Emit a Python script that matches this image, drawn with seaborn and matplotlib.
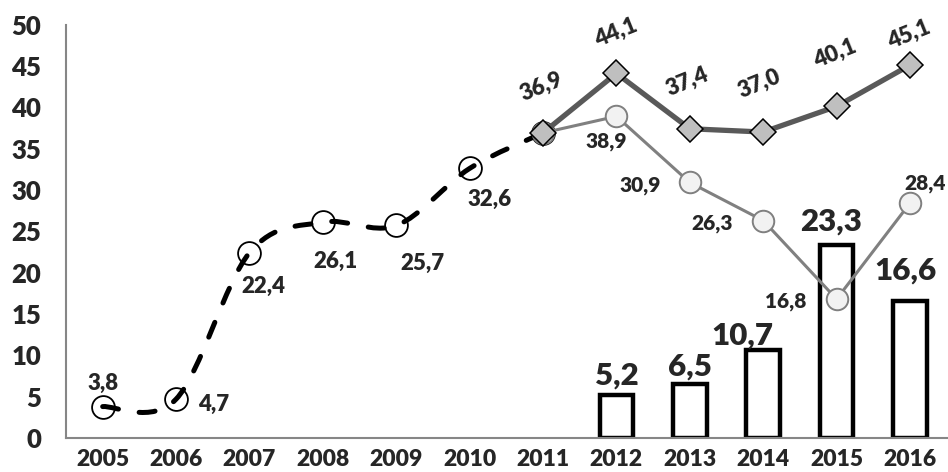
import matplotlib
matplotlib.use("Agg")
import matplotlib.pyplot as plt
from matplotlib import font_manager
from matplotlib.path import Path
from matplotlib.patches import PathPatch
import numpy as np
import seaborn as sns

# ---- data -------------------------------------------------------------
years = ["2005", "2006", "2007", "2008", "2009", "2010", "2011",
         "2012", "2013", "2014", "2015", "2016"]

trend_years = ["2005", "2006", "2007", "2008", "2009", "2010", "2011"]
trend_values = [3.8, 4.7, 22.4, 26.1, 25.7, 32.6, 36.9]

upper_years = ["2011", "2012", "2013", "2014", "2015", "2016"]
upper_values = [36.9, 44.1, 37.4, 37.0, 40.1, 45.1]

lower_years = ["2011", "2012", "2013", "2014", "2015", "2016"]
lower_values = [36.9, 38.9, 30.9, 26.3, 16.8, 28.4]

bar_years = ["2012", "2013", "2014", "2015", "2016"]
bar_values = [5.2, 6.5, 10.7, 23.3, 16.6]

y_ticks = [0, 5, 10, 15, 20, 25, 30, 35, 40, 45, 50]

# ---- style ------------------------------------------------------------
sns.set_style("white")
installed = {f.name for f in font_manager.fontManager.ttflist}
main_font = "Lato" if "Lato" in installed else "DejaVu Sans"
narrow_font = "Liberation Sans Narrow" if "Liberation Sans Narrow" in installed else main_font
plt.rcParams["font.family"] = [main_font, "DejaVu Sans"]
WEIGHT = "heavy"
plt.rcParams["font.weight"] = WEIGHT

AXIS_GREY = "#868686"
DARK_LINE = "#595959"
DIAMOND_FILL = "#BFBFBF"
LIGHT_LINE = "#808080"
LIGHT_FILL = "#F2F2F2"


def fmt(v):
    return f"{v:.1f}".replace(".", ",")


def pos(labels):
    return [years.index(y) for y in labels]


def smooth_path(xs, ys):
    """Cubic Bezier path through the points (Catmull-Rom style tangents)."""
    pts = np.column_stack([xs, ys]).astype(float)
    verts = [pts[0]]
    codes = [Path.MOVETO]
    n = len(pts)
    for i in range(n - 1):
        p0 = pts[i - 1] if i > 0 else pts[i]
        p1 = pts[i]
        p2 = pts[i + 1]
        p3 = pts[i + 2] if i + 2 < n else pts[i + 1]
        c1 = p1 + (p2 - p0) / 6.0
        c2 = p2 - (p3 - p1) / 6.0
        verts += [c1, c2, p2]
        codes += [Path.CURVE4] * 3
    return Path(verts, codes)


fig = plt.figure(figsize=(9.48, 4.72), dpi=100)
ax = fig.add_axes([0.0696, 0.072, 0.929, 0.876])

# ---- bars ---------------------------------------------------------------
sns.barplot(x=bar_years, y=bar_values, order=years, color="white",
            saturation=1, edgecolor="black", linewidth=3.2, width=0.46,
            ax=ax, zorder=2)

# ---- dashed smoothed trend (2005-2011) ---------------------------------
tx = pos(trend_years)
sns.scatterplot(x=tx, y=trend_values, s=270, color="white",
                edgecolor="black", linewidth=1.3, ax=ax, zorder=3)
trend = PathPatch(smooth_path(tx, trend_values), fill=False,
                  edgecolor="black", linewidth=3.6,
                  linestyle=(0, (3.2, 4.2)), capstyle="round", zorder=4)
ax.add_patch(trend)

# ---- lower series (light grey circles) --------------------------------
sns.lineplot(x=pos(lower_years), y=lower_values, ax=ax, color=LIGHT_LINE,
             linewidth=2.2, marker="o", markersize=15.5,
             markerfacecolor=LIGHT_FILL, markeredgecolor=LIGHT_LINE,
             markeredgewidth=1.4, zorder=5)

# ---- upper series (grey diamonds) -------------------------------------
sns.lineplot(x=pos(upper_years), y=upper_values, ax=ax, color=DARK_LINE,
             linewidth=3.8, marker="D", markersize=13,
             markerfacecolor=DIAMOND_FILL, markeredgecolor="black",
             markeredgewidth=1.1, zorder=6)

# ---- value labels -----------------------------------------------------
trend_offsets = [(0, 17), (27, -4), (10, -24), (9, -28), (19, -27), (14, -22)]
for x, v, off in zip(tx[:-1], trend_values[:-1], trend_offsets):
    ax.annotate(fmt(v), (x, v), xytext=off, textcoords="offset points",
                ha="center", va="center", fontsize=16, fontweight=WEIGHT,
                zorder=8)

upper_offsets = [(-1, 33), (0, 29), (-2, 34), (-3, 35), (-1, 38), (-1, 22)]
for x, v, off in zip(pos(upper_years), upper_values, upper_offsets):
    ax.annotate(fmt(v), (x, v), xytext=off, textcoords="offset points",
                ha="center", va="center", fontsize=16, fontweight=WEIGHT,
                rotation=22, rotation_mode="anchor", zorder=8)

lower_offsets = [(-7, -18), (-36, -2), (-37, -2), (-37, -2), (11, 14)]
for x, v, off in zip(pos(lower_years)[1:], lower_values[1:], lower_offsets):
    ax.annotate(fmt(v), (x, v), xytext=off, textcoords="offset points",
                ha="center", va="center", fontsize=15, fontweight=WEIGHT,
                zorder=8)

bar_offsets = [(0, 14), (0, 13), (-15, 10), (-4, 17), (-3, 22)]
for x, v, off in zip(pos(bar_years), bar_values, bar_offsets):
    ax.annotate(fmt(v), (x, v), xytext=off, textcoords="offset points",
                ha="center", va="center", fontsize=22.5, fontweight=WEIGHT,
                zorder=8)

# ---- axes -------------------------------------------------------------
ax.set_xlim(-0.5, len(years) - 0.5)
ax.set_ylim(0, 50)
ax.set_yticks(y_ticks)
ax.set_yticklabels([str(t) for t in y_ticks], fontsize=18.5,
                   fontweight=WEIGHT)
ax.set_xticks(range(len(years)))
ax.set_xticklabels(years, fontsize=16.5, fontweight=WEIGHT,
                   family=[narrow_font, "DejaVu Sans"])
ax.set_xticks(np.arange(-0.5, len(years), 1.0), minor=True)
ax.tick_params(axis="x", which="major", length=0, pad=8)
ax.tick_params(axis="x", which="minor", length=6, width=1.3,
               color=AXIS_GREY, direction="out")
ax.tick_params(axis="y", which="major", length=6, width=1.3,
               color=AXIS_GREY, direction="out", pad=12)
ax.set_xlabel("")
ax.set_ylabel("")

for side in ("top", "right"):
    ax.spines[side].set_visible(False)
for side in ("left", "bottom"):
    ax.spines[side].set_color(AXIS_GREY)
    ax.spines[side].set_linewidth(1.5)

fig.savefig("out.png", dpi=100, facecolor="white")
